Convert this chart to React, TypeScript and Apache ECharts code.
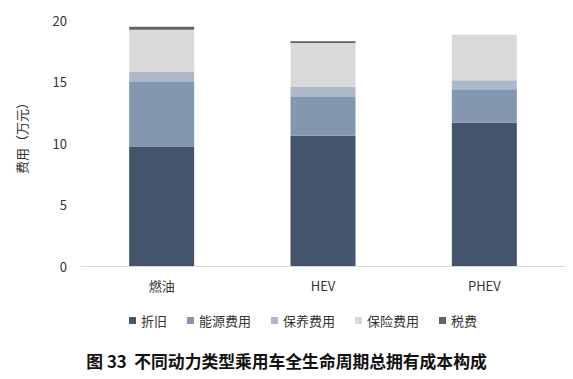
import React, { useEffect, useRef } from "react";
import * as echarts from "echarts";

const categories = ["燃油", "HEV", "PHEV"];
const seriesNames = ["折旧", "能源费用", "保养费用", "保险费用", "税费"];
const depreciation = [9.67, 10.59, 11.65];
const energy = [5.28, 3.15, 2.72];
const maintenance = [0.84, 0.81, 0.73];
const insurance = [3.42, 3.58, 3.7];
const tax = [0.24, 0.14, 0];
const colors = ["#44546A", "#8497B0", "#ADB9CA", "#D9D9D9", "#636363"];
const yTicks = [0, 5, 10, 15, 20];
const yAxisName = "费用（万元）";

const FONT = "'Noto Sans CJK SC', 'Noto Sans', sans-serif";

export default function App() {
  const ref = useRef<HTMLDivElement>(null);
  useEffect(() => {
    if (!ref.current) return;
    const chart = echarts.init(ref.current, undefined, { renderer: "svg" });
    const data = [depreciation, energy, maintenance, insurance, tax];
    chart.setOption({
      animation: false,
      color: colors,
      textStyle: { fontFamily: FONT },
      title: {
        text: "图 33  不同动力类型乘用车全生命周期总拥有成本构成",
        left: "center",
        top: 340,
        textStyle: { fontSize: 16.8, fontWeight: "bold", color: "#111", fontFamily: FONT },
      },
      legend: {
        data: seriesNames,
        top: 301,
        left: 116,
        itemWidth: 7,
        itemHeight: 7,
        itemGap: 20,
        itemStyle: { borderWidth: 0 },
        icon: "rect",
        textStyle: { fontSize: 13, color: "#333", fontFamily: FONT },
      },
      graphic: [
        {
          type: "text",
          x: 13.5,
          y: 127,
          rotation: Math.PI / 2,
          style: {
            text: yAxisName,
            fontSize: 13,
            fill: "#333",
            fontFamily: FONT,
            align: "center",
            verticalAlign: "middle",
          },
        },
      ],
      grid: { left: 73, right: 0, top: 12, bottom: 113, containLabel: false },
      xAxis: {
        type: "category",
        data: categories,
        axisLine: { lineStyle: { color: "#D9D9D9", width: 1 } },
        axisTick: { show: false },
        axisLabel: { fontSize: 13, color: "#333", margin: 13, fontFamily: FONT },
      },
      yAxis: {
        type: "value",
        min: yTicks[0],
        max: yTicks[yTicks.length - 1],
        interval: 5,
        axisLine: { show: false },
        axisTick: { show: false },
        splitLine: { show: false },
        axisLabel: { fontSize: 13, color: "#333", margin: 14, fontFamily: FONT },
      },
      series: seriesNames.map((name, i) => ({
        name,
        type: "bar",
        stack: "total",
        barWidth: 65,
        data: data[i],
        itemStyle: { color: colors[i] },
      })),
    });
    return () => chart.dispose();
  }, []);
  return <div ref={ref} style={{ width: 557, height: 371 }} />;
}
